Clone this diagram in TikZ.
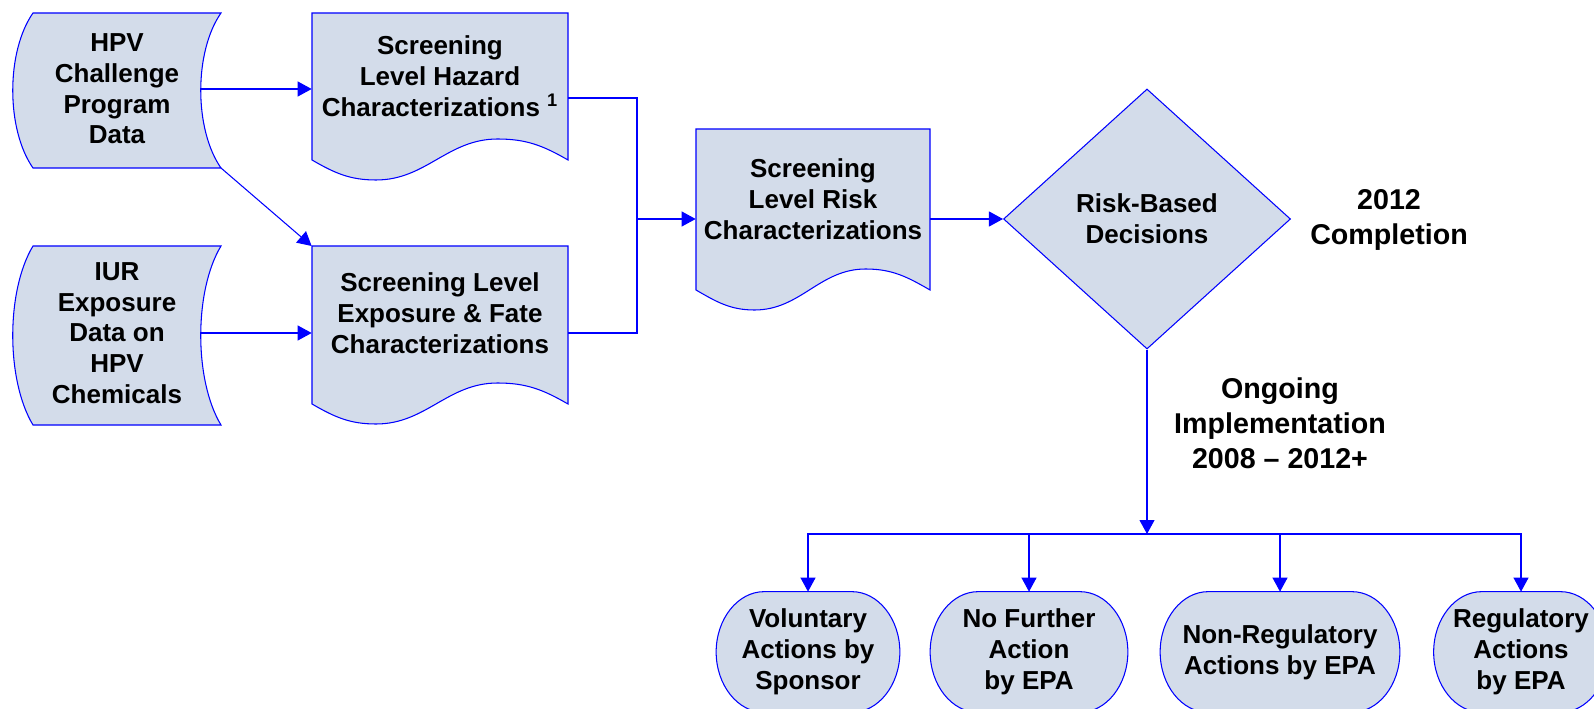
\documentclass[tikz,border=0pt]{standalone}
\usepackage{fontspec}
\setmainfont{Liberation Sans}
\usepackage{tikz}
\usetikzlibrary{shapes.geometric,arrows.meta,positioning,calc,backgrounds}
\definecolor{boxfill}{HTML}{D3DCEA}
\definecolor{flowblue}{HTML}{0000FF}
\newcommand\pxu{0.02cm}
\newcommand\boxfont{\fontsize{14.8}{17.5}\selectfont\bfseries}
\newcommand\notefont{\fontsize{16.3}{19.8}\selectfont\bfseries}

% stored-data outline round a text node (top and bottom offsets)
\newcommand\datashape[3]{%
  \filldraw[outline] ($(#1.center)+(-84,#2)$) -- ($(#1.center)+(104,#2)$)
    .. controls ($(#1.center)+(77,{0.75*(#2)+0.25*(#3)})$) and ($(#1.center)+(77,{0.25*(#2)+0.75*(#3)})$) .. ($(#1.center)+(104,#3)$)
    -- ($(#1.center)+(-84,#3)$)
    .. controls ($(#1.center)+(-111,{0.25*(#2)+0.75*(#3)})$) and ($(#1.center)+(-111,{0.75*(#2)+0.25*(#3)})$) .. ($(#1.center)+(-84,#2)$) -- cycle;}
% document outline (half width, top offset, base of the sides)
\newcommand\docshape[4]{%
  \filldraw[outline] ($(#1.center)+(-#2,#3)$) -- ($(#1.center)+(#2,#3)$) -- ($(#1.center)+(#2,#4)$)
    to[out=150,in=0] ($(#1.center)+({0.45*#2},{#4-21})$)
    to[out=180,in=0] ($(#1.center)+({-0.5*#2},{#4+20})$)
    to[out=180,in=-30] ($(#1.center)+(-#2,#4)$) -- cycle;}
% terminator outline with elliptic ends
\newcommand\actionshape[1]{%
  \filldraw[outline] ($(#1.north west)+(48,0)$) -- ($(#1.north east)+(-48,0)$)
    .. controls ($(#1.north east)+(-21.5,0)$) and ($(#1.east)+(0,-33)$) .. (#1.east)
    .. controls ($(#1.east)+(0,33)$) and ($(#1.south east)+(-21.5,0)$) .. ($(#1.south east)+(-48,0)$)
    -- ($(#1.south west)+(48,0)$)
    .. controls ($(#1.south west)+(21.5,0)$) and ($(#1.west)+(0,33)$) .. (#1.west)
    .. controls ($(#1.west)+(0,-33)$) and ($(#1.north west)+(21.5,0)$) .. ($(#1.north west)+(48,0)$) -- cycle;}

\begin{document}
\begin{tikzpicture}[x=0.02cm, y=-0.02cm,
  outline/.style={draw=flowblue, fill=boxfill, line width=0.6pt},
  txt/.style={align=center, inner sep=0pt, font=\boxfont},
  decision/.style={diamond, outline, txt, minimum width=287*\pxu, minimum height=260*\pxu},
  action/.style={rectangle, txt, minimum height=120*\pxu},
  note/.style={align=center, inner sep=0pt, font=\notefont},
  link/.style={draw=flowblue, line width=0.6pt},
  arr/.style={link, -{Triangle[length=0.28cm, width=0.3cm]}}
]
\useasboundingbox (0,0) rectangle (1594,709);
\clip (0,0) rectangle (1594,709);

\node[txt, minimum width=166*\pxu] (hpv) at (117,89) {HPV\\Challenge\\Program\\Data};
\node[txt, minimum width=166*\pxu] (iur) at (117,333) {IUR\\Exposure\\Data on\\HPV\\Chemicals};
\node[txt, minimum width=256*\pxu] (haz) at (440,76) {Screening\\Level Hazard\\Characterizations \textsuperscript{1}};
\node[txt, minimum width=256*\pxu] (xfate) at (440,313) {Screening Level\\Exposure \& Fate\\Characterizations};
\node[txt, minimum width=234*\pxu] (risk) at (813,199) {Screening\\Level Risk\\Characterizations};
\node[decision] (dec) at (1147,219) {Risk-Based\\Decisions};
\node[note] (done) at (1389,220) {2012\\Completion};
\node[note] (ongo) at (1280,423) {Ongoing\\Implementation\\2008 -- 2012+};

\node[action, minimum width=183*\pxu] (vol) at (808,652) {Voluntary\\Actions by\\Sponsor};
\node[action, minimum width=197*\pxu] (nofa) at (1029,652) {No Further\\Action\\by EPA};
\node[action, minimum width=239*\pxu] (nonreg) at (1280,652) {Non-Regulatory\\Actions by EPA};
\node[action, minimum width=174*\pxu] (reg) at (1521,652) {Regulatory\\Actions\\by EPA};

\begin{scope}[on background layer]
  \datashape{hpv}{-76}{79}
  \datashape{iur}{-87}{92}
  \docshape{haz}{128}{-63}{84}
  \docshape{xfate}{128}{-67}{91}
  \docshape{risk}{117}{-70}{91}
  \foreach \t in {vol,nofa,nonreg,reg}
    {\actionshape{\t}}
\end{scope}

\coordinate (merge) at (637,219);
\coordinate (bus) at (1147,534);
\draw[arr] (hpv.east) -- (hpv.east -| haz.west);
\draw[arr] (iur.east) -- (iur.east -| xfate.west);
\draw[arr] ($(hpv.center)+(104,79)$) -- ($(xfate.west)+(0,-67)$);
\draw[link] ($(haz.east)+(0,22)$) -| (merge) |- (xfate.east |- iur.east);
\draw[arr] (merge) -- (merge -| risk.west);
\draw[arr] (dec.west -| risk.east) -- (dec.west);
\draw[arr] (dec.south) -- (bus);
\foreach \t in {vol,nofa,nonreg,reg}
  \draw[arr] (bus) -| (\t.north);
\end{tikzpicture}
\end{document}
